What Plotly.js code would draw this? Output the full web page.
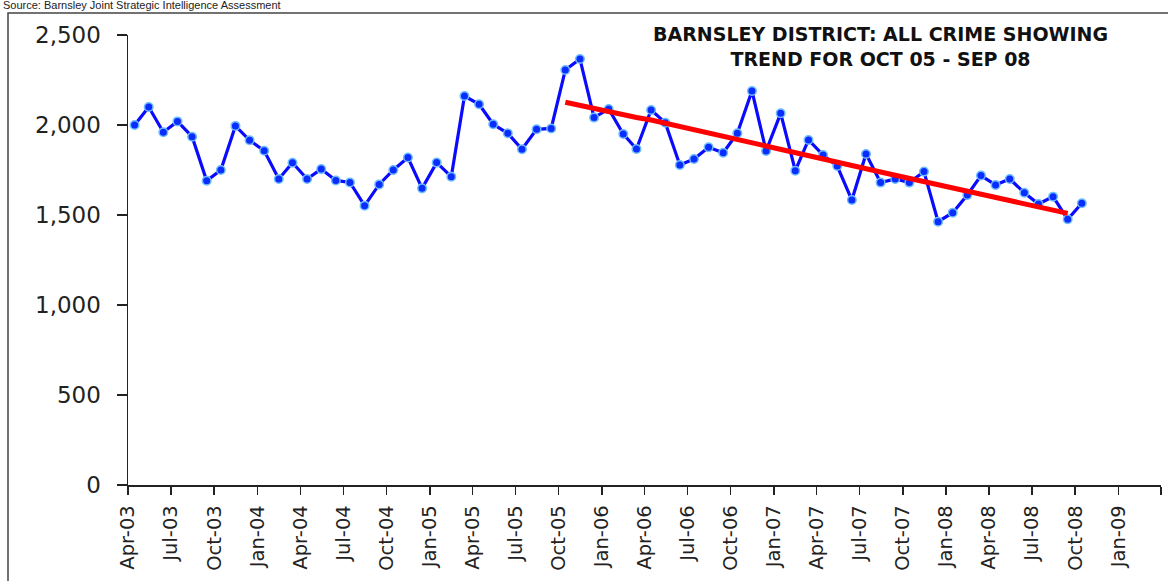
<!DOCTYPE html>
<html>
<head>
<meta charset="utf-8">
<script src="https://cdn.plot.ly/plotly-3.0.1.min.js"></script>
<style>
  html, body { margin: 0; padding: 0; background: #fff; }
  #chart { width: 1168px; height: 581px; }
</style>
</head>
<body>
<div id="chart"></div>
<script>
// Months (Apr-03 .. Oct-08)
const months = [
  '2003-04','2003-05','2003-06','2003-07','2003-08','2003-09','2003-10','2003-11','2003-12',
  '2004-01','2004-02','2004-03','2004-04','2004-05','2004-06','2004-07','2004-08','2004-09','2004-10','2004-11','2004-12',
  '2005-01','2005-02','2005-03','2005-04','2005-05','2005-06','2005-07','2005-08','2005-09','2005-10','2005-11','2005-12',
  '2006-01','2006-02','2006-03','2006-04','2006-05','2006-06','2006-07','2006-08','2006-09','2006-10','2006-11','2006-12',
  '2007-01','2007-02','2007-03','2007-04','2007-05','2007-06','2007-07','2007-08','2007-09','2007-10','2007-11','2007-12',
  '2008-01','2008-02','2008-03','2008-04','2008-05','2008-06','2008-07','2008-08','2008-09','2008-10'
];

// All crime per month
const allCrime = [
  2000, 2100, 1960, 2020, 1935, 1690, 1750, 1995, 1915,
  1857, 1700, 1790, 1700, 1755, 1692, 1681, 1552, 1670, 1750, 1819, 1648,
  1791, 1713, 2161, 2115, 2004, 1954, 1865, 1976, 1981, 2306, 2367, 2041,
  2089, 1950, 1867, 2083, 2013, 1778, 1811, 1876, 1846, 1954, 2189, 1856,
  2065, 1746, 1917, 1833, 1772, 1583, 1839, 1680, 1700, 1680, 1741, 1463,
  1513, 1611, 1719, 1667, 1700, 1624, 1561, 1602, 1476, 1565
];

// Trend months (Oct-05 .. Sep-08)
const trendMonths = months.slice(months.indexOf('2005-10'), months.indexOf('2008-09') + 1);
const trendValues = [
  2126, 2108, 2091, 2076, 2060, 2042, 2028, 2010, 1990, 1970, 1952, 1934,
  1915, 1897, 1879, 1862, 1844, 1827, 1809, 1791, 1774, 1756, 1739, 1721,
  1703, 1686, 1668, 1650, 1633, 1615, 1598, 1580, 1562, 1545, 1527, 1509
];

// Axis ticks
const tickDates = [
  '2003-04-01','2003-07-01','2003-10-01','2004-01-01','2004-04-01','2004-07-01','2004-10-01',
  '2005-01-01','2005-04-01','2005-07-01','2005-10-01','2006-01-01','2006-04-01','2006-07-01',
  '2006-10-01','2007-01-01','2007-04-01','2007-07-01','2007-10-01','2008-01-01','2008-04-01',
  '2008-07-01','2008-10-01','2009-01-01','2009-04-01'
];
const tickLabels = [
  'Apr-03','Jul-03','Oct-03','Jan-04','Apr-04','Jul-04','Oct-04',
  'Jan-05','Apr-05','Jul-05','Oct-05','Jan-06','Apr-06','Jul-06',
  'Oct-06','Jan-07','Apr-07','Jul-07','Oct-07','Jan-08','Apr-08',
  'Jul-08','Oct-08','Jan-09',''
];
const yTicks = [0, 500, 1000, 1500, 2000, 2500];
const yLabels = ['0', '500', '1,000', '1,500', '2,000', '2,500'];

const titleLines = ['BARNSLEY DISTRICT: ALL CRIME SHOWING', 'TREND FOR OCT 05 - SEP 08'];
const sourceText = 'Source: Barnsley Joint Strategic Intelligence Assessment';

const midMonth = m => m + '-15';

const traces = [
  {
    x: months.map(midMonth),
    y: allCrime,
    type: 'scatter',
    mode: 'lines+markers',
    line: { color: '#0a0aff', width: 3.2 },
    marker: { color: '#0a2cff', size: 8.5, line: { color: '#6cbcff', width: 1.5 } },
    hoverinfo: 'x+y'
  },
  {
    x: trendMonths.map(midMonth),
    y: trendValues,
    type: 'scatter',
    mode: 'lines',
    line: { color: '#ff0000', width: 5 },
    hoverinfo: 'x+y'
  }
];

const L = 128, R = 1161, T = 35, B = 485, W = 1168, H = 581;
const pw = R - L, ph = B - T;
const px = v => (v - L) / pw;
const py = v => (B - v) / ph;

const layout = {
  width: W, height: H,
  margin: { l: L, r: W - R, t: T, b: H - B, pad: 0 },
  paper_bgcolor: '#ffffff',
  plot_bgcolor: '#ffffff',
  showlegend: false,
  font: { family: 'DejaVu Sans, Verdana, sans-serif', color: '#222' },
  xaxis: {
    type: 'date',
    range: ['2003-04-01', '2009-04-01'],
    tickmode: 'array',
    tickvals: tickDates,
    ticktext: tickLabels,
    tickangle: -90,
    ticks: 'outside',
    ticklen: 8,
    tickwidth: 1.5,
    tickcolor: '#222',
    showline: true,
    linecolor: '#222',
    linewidth: 1.5,
    showgrid: false,
    zeroline: false,
    ticklabelstandoff: 3,
    tickfont: { size: 19.5, color: '#222', family: 'DejaVu Sans, Verdana, sans-serif' }
  },
  yaxis: {
    range: [0, 2500],
    tickmode: 'array',
    tickvals: yTicks,
    ticktext: yLabels,
    ticks: 'outside',
    ticklen: 10,
    tickwidth: 1.5,
    tickcolor: '#222',
    showline: true,
    linecolor: '#222',
    linewidth: 1.5,
    showgrid: false,
    zeroline: false,
    ticklabelstandoff: 11,
    tickfont: { size: 23, color: '#222', family: 'DejaVu Sans, Verdana, sans-serif' }
  },
  shapes: [
    {
      type: 'rect', xref: 'paper', yref: 'paper',
      x0: px(8), x1: px(1180), y0: py(13), y1: py(600),
      line: { color: '#444', width: 1.5 }, fillcolor: 'rgba(0,0,0,0)', layer: 'above'
    }
  ],
  annotations: [
    {
      xref: 'paper', yref: 'paper', x: px(880), y: py(46),
      xanchor: 'center', yanchor: 'middle', showarrow: false,
      text: '<b>' + titleLines.join('<br>') + '</b>',
      align: 'center',
      font: { family: 'DejaVu Sans, Verdana, sans-serif', size: 19, color: '#111' }
    },
    {
      xref: 'paper', yref: 'paper', x: px(2), y: py(12),
      xanchor: 'left', yanchor: 'bottom', showarrow: false,
      text: sourceText,
      borderpad: 0,
      font: { family: 'Liberation Sans, Arial, sans-serif', size: 11, color: '#222' }
    }
  ]
};

Plotly.newPlot('chart', traces, layout, { staticPlot: true, displayModeBar: false });
</script>
</body>
</html>
